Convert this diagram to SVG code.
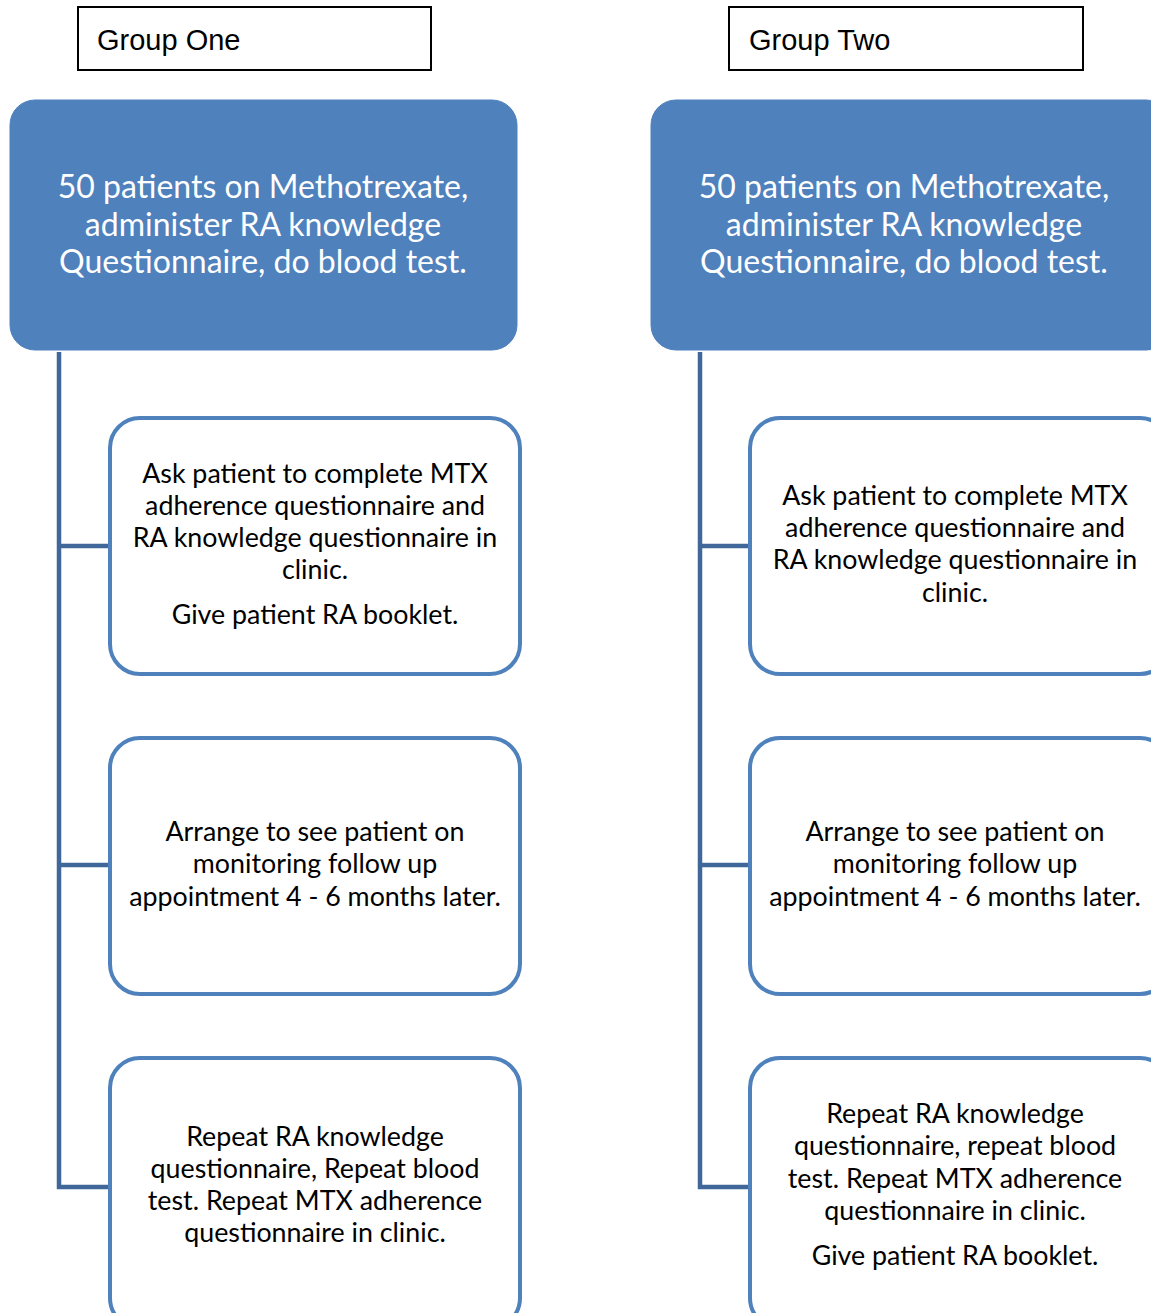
<svg xmlns="http://www.w3.org/2000/svg" width="1151" height="1313" viewBox="0 0 1151 1313">
<style>
.lbl{fill:#fff;stroke:#000;stroke-width:2}
.lt{font-family:"Liberation Sans",Arial,sans-serif;font-size:29px;fill:#000}
.top{fill:#4F81BD;stroke:#4F81BD;stroke-width:1}
.tt{font-family:Lato,"Open Sans",sans-serif;font-size:32px;fill:#fff;text-anchor:middle}
.box{fill:#fff;stroke:#4F81BD;stroke-width:4}
.bt{font-family:Lato,"Open Sans",sans-serif;font-size:26.8px;fill:#000;text-anchor:middle}
.con{fill:none;stroke:#3F6799;stroke-width:4.5}
</style>
<rect width="1151" height="1313" fill="#fff"/>
<g id="connectors">
<path class="con" d="M59 352 V1187 H110 M59 546 H110 M59 865 H110"/>
<path class="con" d="M700 352 V1187 H750 M700 546 H750 M700 865 H750"/>
</g>
<g id="label-group-one">
<rect class="lbl" x="78" y="7" width="353" height="63"/>
<text class="lt" x="97" y="50">Group One</text>
</g>
<g id="label-group-two">
<rect class="lbl" x="729" y="7" width="354" height="63"/>
<text class="lt" x="749" y="50">Group Two</text>
</g>
<g id="g1-start">
<rect class="top" x="10" y="100" width="507" height="250" rx="25"/>
<text class="tt"><tspan x="263" y="198">50 patients on Methotrexate,</tspan><tspan x="263" y="236">administer RA knowledge</tspan><tspan x="263" y="273">Questionnaire, do blood test.</tspan></text>
</g>
<g id="g2-start">
<rect class="top" x="651" y="100" width="520" height="250" rx="25"/>
<text class="tt"><tspan x="904" y="198">50 patients on Methotrexate,</tspan><tspan x="904" y="236">administer RA knowledge</tspan><tspan x="904" y="273">Questionnaire, do blood test.</tspan></text>
</g>
<g id="g1-step1">
<rect class="box" x="110" y="418" width="410" height="256" rx="30"/>
<text class="bt"><tspan x="315" y="483">Ask patient to complete MTX</tspan><tspan x="315" y="515">adherence questionnaire and</tspan><tspan x="315" y="547">RA knowledge questionnaire in</tspan><tspan x="315" y="579">clinic.</tspan><tspan x="315" y="624">Give patient RA booklet.</tspan></text>
</g>
<g id="g1-step2">
<rect class="box" x="110" y="738" width="410" height="256" rx="30"/>
<text class="bt"><tspan x="315" y="841">Arrange to see patient on</tspan><tspan x="315" y="873">monitoring follow up</tspan><tspan x="315" y="906">appointment 4 - 6 months later.</tspan></text>
</g>
<g id="g1-step3">
<rect class="box" x="110" y="1058" width="410" height="270" rx="30"/>
<text class="bt"><tspan x="315" y="1146">Repeat RA knowledge</tspan><tspan x="315" y="1178">questionnaire, Repeat blood</tspan><tspan x="315" y="1210">test. Repeat MTX adherence</tspan><tspan x="315" y="1242">questionnaire in clinic.</tspan></text>
</g>
<g id="g2-step1">
<rect class="box" x="750" y="418" width="420" height="256" rx="30"/>
<text class="bt"><tspan x="955" y="505">Ask patient to complete MTX</tspan><tspan x="955" y="537">adherence questionnaire and</tspan><tspan x="955" y="569">RA knowledge questionnaire in</tspan><tspan x="955" y="602">clinic.</tspan></text>
</g>
<g id="g2-step2">
<rect class="box" x="750" y="738" width="420" height="256" rx="30"/>
<text class="bt"><tspan x="955" y="841">Arrange to see patient on</tspan><tspan x="955" y="873">monitoring follow up</tspan><tspan x="955" y="906">appointment 4 - 6 months later.</tspan></text>
</g>
<g id="g2-step3">
<rect class="box" x="750" y="1058" width="420" height="270" rx="30"/>
<text class="bt"><tspan x="955" y="1123">Repeat RA knowledge</tspan><tspan x="955" y="1155">questionnaire, repeat blood</tspan><tspan x="955" y="1188">test. Repeat MTX adherence</tspan><tspan x="955" y="1220">questionnaire in clinic.</tspan><tspan x="955" y="1265">Give patient RA booklet.</tspan></text>
</g>
</svg>
